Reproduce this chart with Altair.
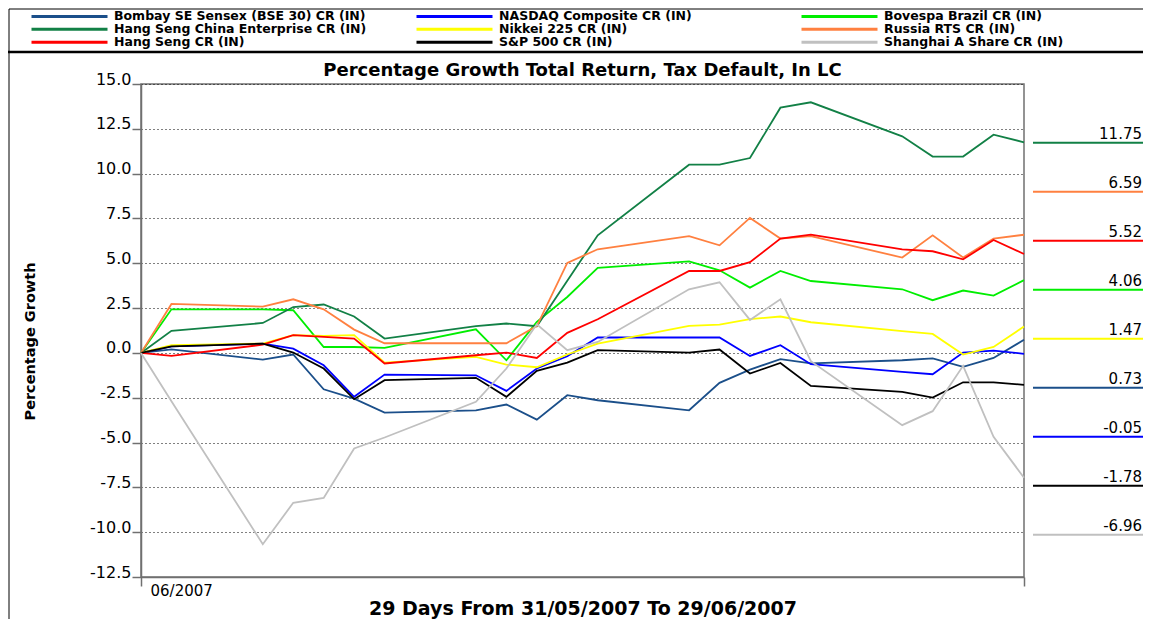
import altair as alt
import pandas as pd

# ---------------- data ----------------
dates = ["2007-05-31", "2007-06-01", "2007-06-04", "2007-06-05", "2007-06-06", "2007-06-07",
         "2007-06-08", "2007-06-11", "2007-06-12", "2007-06-13", "2007-06-14", "2007-06-15",
         "2007-06-18", "2007-06-19", "2007-06-20", "2007-06-21", "2007-06-22", "2007-06-25",
         "2007-06-26", "2007-06-27", "2007-06-28", "2007-06-29"]

# legend order (filled column by column, three rows)
series_names = [
    "Bombay SE Sensex (BSE 30) CR (IN)",
    "Hang Seng China Enterprise CR (IN)",
    "Hang Seng CR (IN)",
    "NASDAQ Composite CR (IN)",
    "Nikkei 225 CR (IN)",
    "S&P 500 CR (IN)",
    "Bovespa Brazil CR (IN)",
    "Russia RTS CR (IN)",
    "Shanghai A Share CR (IN)",
]
series_colors = ["#1b4f8a", "#128046", "#ff0000", "#0000ff", "#ffff00",
                 "#000000", "#00ee00", "#ff8040", "#c0c0c0"]

# drawing order (later on top)
draw_order = [0, 3, 6, 1, 4, 7, 2, 5, 8]

bombay = [0, 0.20, -0.37, -0.09, -2.03, -2.55, -3.33, -3.20, -2.88, -3.72, -2.36, -2.64,
          -3.20, -1.67, -0.93, -0.35, -0.58, -0.41, -0.30, -0.78, -0.28, 0.73]
hs_china = [0, 1.23, 1.67, 2.56, 2.70, 2.03, 0.80, 1.49, 1.64, 1.49, 4.03, 6.56,
            10.50, 10.50, 10.87, 13.68, 13.98, 12.08, 10.95, 10.95, 12.17, 11.75]
hang_seng = [0, -0.17, 0.46, 0.99, 0.89, 0.80, -0.59, -0.13, 0.02, -0.28, 1.12, 1.88,
             4.57, 4.57, 5.06, 6.38, 6.60, 5.78, 5.67, 5.22, 6.30, 5.52]
nasdaq = [0, 0.37, 0.52, 0.24, -0.69, -2.45, -1.21, -1.25, -2.12, -0.87, -0.19, 0.86,
          0.86, 0.86, -0.17, 0.43, -0.63, -1.06, -1.19, 0.02, 0.13, -0.05]
nikkei = [0, 0.43, 0.52, 0.99, 0.95, 0.99, -0.54, -0.22, -0.65, -0.80, -0.09, 0.52,
          1.51, 1.58, 1.88, 2.03, 1.71, 1.21, 1.06, -0.09, 0.33, 1.47]
sp500 = [0, 0.37, 0.52, 0.02, -0.87, -2.58, -1.52, -1.39, -2.45, -1.00, -0.54, 0.15,
         0.02, 0.19, -1.15, -0.56, -1.84, -2.17, -2.49, -1.64, -1.64, -1.78]
bovespa = [0, 2.43, 2.43, 2.38, 0.33, 0.33, 0.28, 1.32, -0.41, 1.73, 3.12, 4.74,
           5.11, 4.61, 3.64, 4.57, 4.01, 3.55, 2.94, 3.48, 3.20, 4.06]
russia = [0, 2.73, 2.58, 2.99, 2.43, 1.30, 0.54, 0.54, 0.54, 1.50, 5.02, 5.78,
          6.51, 6.00, 7.53, 6.38, 6.51, 5.32, 6.56, 5.32, 6.38, 6.59]
shanghai = [0, -2.70, -10.67, -8.36, -8.09, -5.33, -4.72, -2.73, -0.87, 1.60, 0.15, 0.61,
            3.55, 3.94, 1.84, 2.99, -0.46, -4.03, -3.25, -0.72, -4.68, -6.96]

series_values = [bombay, hs_china, hang_seng, nasdaq, nikkei, sp500, bovespa, russia, shanghai]

y_ticks = [-12.5, -10.0, -7.5, -5.0, -2.5, 0.0, 2.5, 5.0, 7.5, 10.0, 12.5, 15.0]
x_label = "06/2007"
chart_title = "Percentage Growth Total Return, Tax Default, In LC"
x_title = "29 Days From 31/05/2007 To 29/06/2007"
y_title = "Percentage Growth"

# ---------------- tables ----------------
dt = pd.to_datetime(dates)
day_index = [(d - dt[0]).days for d in dt]
last_day = day_index[-1]

rows = []
for i in draw_order:
    name, vals = series_names[i], series_values[i]
    for d, v in zip(day_index, vals):
        rows.append({"series": name, "day": d, "value": v})
df = pd.DataFrame(rows)

final_df = pd.DataFrame({"series": series_names, "final": [v[-1] for v in series_values]})
final_df = final_df.sort_values("final", ascending=False).reset_index(drop=True)
final_df["rank"] = list(range(len(final_df)))
final_df["label"] = ["%.2f" % v for v in final_df["final"]]

color_scale = alt.Scale(domain=series_names, range=series_colors)
FONT = "DejaVu Sans"
W, H = 883, 493

lines = alt.Chart(df).mark_line(strokeWidth=1.8).encode(
    x=alt.X("day:Q",
            scale=alt.Scale(domain=[0, last_day], nice=False, zero=False),
            axis=alt.Axis(values=[0, last_day],
                          labelExpr="datum.value == 0 ? '%s' : ''" % x_label,
                          labelAlign="left", labelOffset=9, labelBaseline="alphabetic",
                          labelPadding=9, tickSize=9, tickWidth=1.5, domainWidth=1.5,
                          grid=False, labelFlush=False, labelOverlap=False,
                          title=x_title, titleFontSize=19, titleFontWeight="bold",
                          titleBaseline="alphabetic", titleAlign="center",
                          titleX=W / 2, titleY=37)),
    y=alt.Y("value:Q",
            scale=alt.Scale(domain=[-12.5, 15], nice=False, zero=False),
            axis=alt.Axis(values=y_ticks, tickSize=9, tickWidth=1.5,
                          labelExpr="replace(format(datum.value, '.1f'), '\u2212', '-')",
                          labelPadding=1, labelBaseline="alphabetic", labelFontSize=16,
                          labelFlush=False, labelOverlap=False,
                          grid=True, gridColor="black", gridDash=[1, 3], gridWidth=1,
                          domainWidth=1.5,
                          title=y_title, titleFontSize=14.5, titleFontWeight="bold",
                          titleAngle=270, titleBaseline="middle", titleAlign="center",
                          titleX=-111, titleY=257)),
    color=alt.Color("series:N", scale=color_scale, sort=series_names,
                    legend=alt.Legend(orient="none", legendX=-111, legendY=-74,
                                      columns=3, symbolType="stroke", symbolSize=5776,
                                      symbolStrokeWidth=3, labelFont=FONT,
                                      labelFontSize=12.5, labelFontWeight="bold",
                                      labelColor="black", labelOffset=5, rowPadding=0,
                                      columnPadding=48, gridAlign="all", clipHeight=12.5,
                                      title=None, labelLimit=400, padding=0)),
)

lab_scale = alt.Scale(domain=[-1.2, 8.86], reverse=True, nice=False, zero=False)

end_rules = alt.Chart(final_df).mark_rule(strokeWidth=2).encode(
    x=alt.value(892), x2=alt.value(1002),
    y=alt.Y("rank:Q", scale=lab_scale, axis=None),
    color=alt.Color("series:N", scale=color_scale, sort=series_names),
)
end_text = alt.Chart(final_df).mark_text(align="right", baseline="alphabetic", dy=-4,
                                         font=FONT, fontSize=15, color="black").encode(
    x=alt.value(1001),
    y=alt.Y("rank:Q", scale=lab_scale, axis=None),
    text=alt.Text("label:N"),
)

title_layer = alt.Chart(pd.DataFrame({"t": [chart_title]})).mark_text(
    font=FONT, fontSize=18, fontWeight="bold", color="black",
    align="center", baseline="middle").encode(
    text="t:N", x=alt.value(W / 2), y=alt.value(-13))

one = pd.DataFrame({"k": [0]})
sep = alt.Chart(one).mark_rule(color="black", strokeWidth=2.5).encode(
    x=alt.value(-133), x2=alt.value(1002), y=alt.value(-32))
top_border = alt.Chart(one).mark_rule(color="black", strokeWidth=1).encode(
    x=alt.value(-132), x2=alt.value(1002), y=alt.value(-75))
left_border = alt.Chart(one).mark_rule(color="black", strokeWidth=1).encode(
    x=alt.value(-132), y=alt.value(-75), y2=alt.value(535))

chart = alt.layer(lines, end_rules, end_text, title_layer, sep, top_border, left_border
                  ).resolve_scale(y="independent").properties(
    width=W, height=H,
    autosize=alt.AutoSizeParams(type="none"),
    padding={"left": 133, "top": 76, "right": 119, "bottom": 42},
    background="white",
).configure_view(stroke="#707070", strokeWidth=1.5).configure_axis(
    labelFont=FONT, labelFontSize=15, labelColor="black",
    titleFont=FONT, titleColor="black",
    domainColor="#707070", tickColor="#707070",
)

chart.save("out.html", embed_options={"renderer": "svg", "actions": False})
